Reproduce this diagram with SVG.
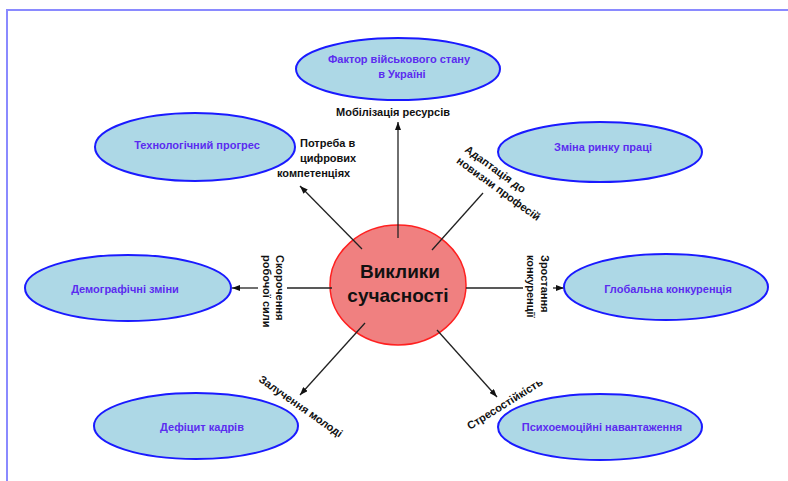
<svg xmlns="http://www.w3.org/2000/svg" width="788" height="481" viewBox="0 0 788 481">
<style>
.node ellipse{fill:#add8e6;stroke:#1a1aff;stroke-width:2}
.nt{font-family:"Liberation Sans",Arial,sans-serif;font-weight:bold;font-size:11px;fill:#5b2cf0;text-anchor:middle}
.lbl{font-family:"Liberation Sans",Arial,sans-serif;font-weight:bold;font-size:11px;fill:#111}
.ct{font-family:"Liberation Sans",Arial,sans-serif;font-weight:bold;font-size:19px;fill:#111;text-anchor:middle}
.conn line{stroke:#222;stroke-width:1.3}
.border{stroke:#8a8aff;stroke-width:2;fill:none}
</style>
<defs>
<marker id="ah" markerUnits="userSpaceOnUse" markerWidth="8" markerHeight="6" refX="8" refY="3" orient="auto">
<path d="M0,0 L8,3 L0,6 z" fill="#111"/>
</marker>
</defs>
<rect width="788" height="481" fill="#fff"/>
<path class="border" d="M7,481 L7,10 L788,10"/>

<g id="center">
<ellipse cx="398" cy="285" rx="68" ry="60" fill="#f08080" stroke="#ff2020" stroke-width="1.5"/>
<text class="ct" x="400" y="278">Виклики</text>
<text class="ct" x="398" y="302">сучасності</text>
</g>

<g class="conn" id="connectors">
<line x1="398" y1="238" x2="398" y2="122" marker-end="url(#ah)"/>
<line x1="362" y1="249" x2="300" y2="186" marker-end="url(#ah)"/>
<line x1="432" y1="250" x2="483" y2="193"/>
<line x1="332" y1="288" x2="287" y2="288"/>
<line x1="258" y1="288" x2="232" y2="288" marker-end="url(#ah)"/>
<line x1="466" y1="288" x2="523" y2="288"/>
<line x1="553" y1="288" x2="564" y2="288" marker-end="url(#ah)"/>
<line x1="365" y1="323" x2="300" y2="395" marker-end="url(#ah)"/>
<line x1="437" y1="330" x2="497" y2="397" marker-end="url(#ah)"/>
</g>

<g id="labels">
<text class="lbl" x="393" y="116" text-anchor="middle">Мобілізація ресурсів</text>
<text class="lbl" x="300" y="147">Потреба в</text>
<text class="lbl" x="300" y="162">цифрових</text>
<text class="lbl" x="277" y="177">компетенціях</text>
<g transform="translate(464,151) rotate(36)">
<text class="lbl" x="0" y="0">Адаптація до</text>
<text class="lbl" x="0" y="14">новизни професій</text>
</g>
<g transform="translate(276,255) rotate(90)">
<text class="lbl" x="0" y="0">Скорочення</text>
<text class="lbl" x="0" y="13">робочої сили</text>
</g>
<g transform="translate(541,255) rotate(90)">
<text class="lbl" x="0" y="0">Зростання</text>
<text class="lbl" x="0" y="14">конкуренції</text>
</g>
<text class="lbl" transform="translate(258,381) rotate(35)">Залучення молоді</text>
<text class="lbl" transform="translate(470,430) rotate(-32)">Стресостійкість</text>
</g>

<g class="node" id="n-factor">
<ellipse cx="398" cy="69" rx="102" ry="31"/>
<text class="nt" x="399" y="63">Фактор військового стану</text>
<text class="nt" x="402" y="78">в Україні</text>
</g>
<g class="node" id="n-tech">
<ellipse cx="195" cy="147" rx="100" ry="34"/>
<text class="nt" x="197" y="149">Технологічний прогрес</text>
</g>
<g class="node" id="n-labor">
<ellipse cx="600" cy="152" rx="102" ry="30"/>
<text class="nt" x="603" y="151">Зміна ринку праці</text>
</g>
<g class="node" id="n-demo">
<ellipse cx="128" cy="288" rx="103" ry="33"/>
<text class="nt" x="125" y="293">Демографічні зміни</text>
</g>
<g class="node" id="n-global">
<ellipse cx="666" cy="287" rx="102" ry="33"/>
<text class="nt" x="668" y="293">Глобальна конкуренція</text>
</g>
<g class="node" id="n-deficit">
<ellipse cx="196" cy="426" rx="102" ry="33"/>
<text class="nt" x="202" y="431">Дефіцит кадрів</text>
</g>
<g class="node" id="n-psycho">
<ellipse cx="600" cy="427" rx="102" ry="33"/>
<text class="nt" x="602" y="431">Психоемоційні навантаження</text>
</g>
</svg>
